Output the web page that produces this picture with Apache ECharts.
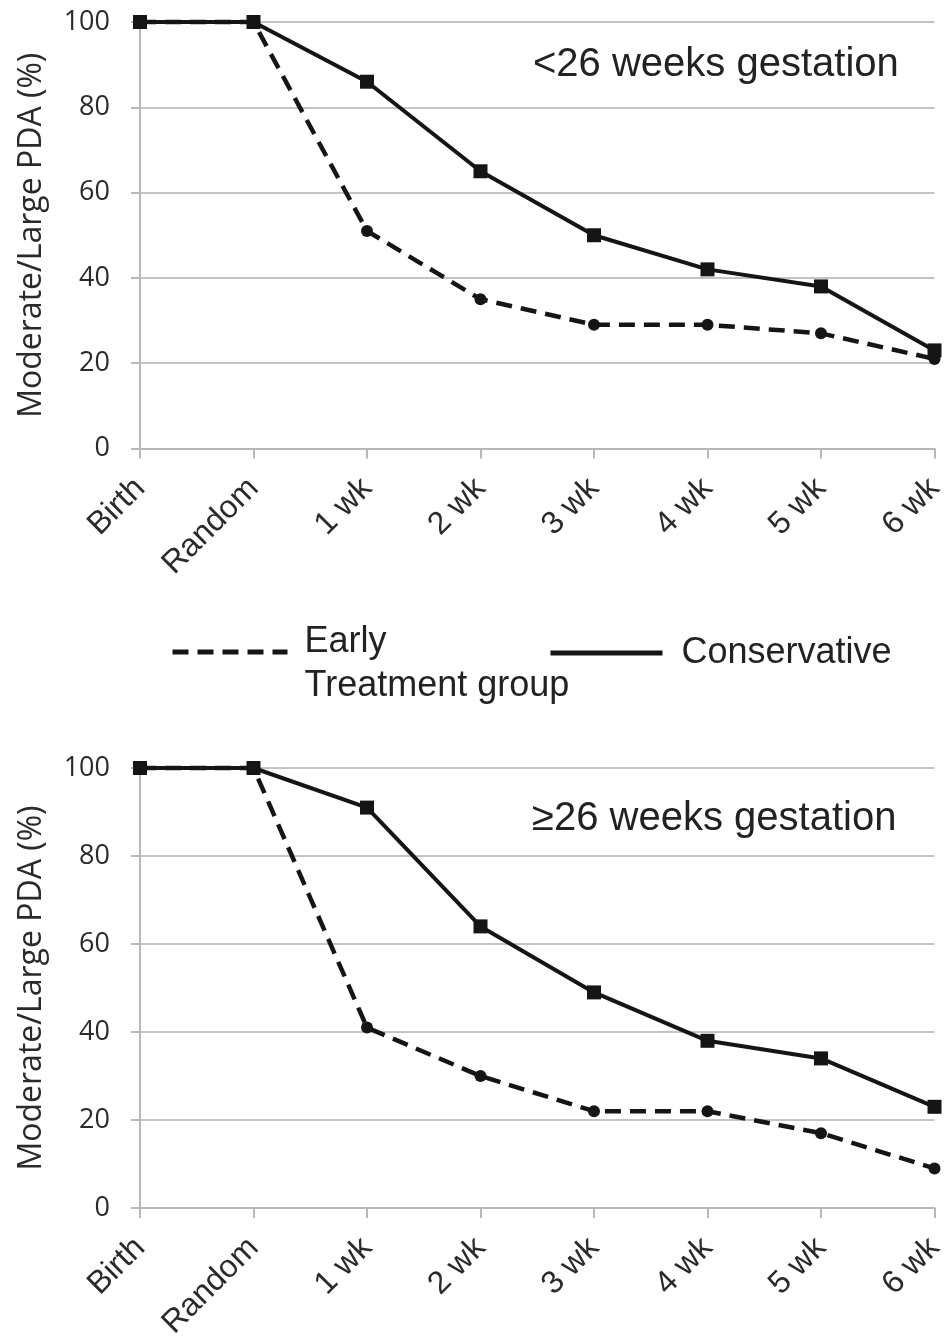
<!DOCTYPE html>
<html>
<head>
<meta charset="utf-8">
<script src="https://cdn.jsdelivr.net/npm/echarts@6/dist/echarts.min.js"></script>
<style>
  html, body { margin: 0; padding: 0; background: #fff; }
  #chart { width: 947px; height: 1337px; }
</style>
</head>
<body>
<div id="chart"></div>
<script>
// time points on the x axis
const categories = ["Birth", "Random", "1 wk", "2 wk", "3 wk", "4 wk", "5 wk", "6 wk"];

// % with moderate/large PDA, <26 weeks gestation
const earlyUnder26 = [100, 100, 51, 35, 29, 29, 27, 21];
const conservativeUnder26 = [100, 100, 86, 65, 50, 42, 38, 23];

// % with moderate/large PDA, >=26 weeks gestation
const earlyOver26 = [100, 100, 41, 30, 22, 22, 17, 9];
const conservativeOver26 = [100, 100, 91, 64, 49, 38, 34, 23];

const panelTitles = ["<26 weeks gestation", "\u226526 weeks gestation"];
const seriesNames = ["Early Treatment group", "Conservative"];

const INK = "#151515";
const GRID_GRAY = "#c4c4c4";
const LABEL = "#2a2a2a";
const DASH = [16, 9];

const chart = echarts.init(document.getElementById("chart"));

// outerBoundsMode off: keep the plot boxes where they are even if labels run to the edge
const grids = [
  { left: 140, width: 794.5, top: 22, height: 426.5, outerBoundsMode: "none" },
  { left: 140, width: 794.5, top: 768, height: 440, outerBoundsMode: "none" },
];

const buildXAxis = (gridIndex) => ({
  type: "category",
  gridIndex,
  data: categories,
  boundaryGap: false,
  axisLine: { lineStyle: { color: "#b8b8b8", width: 2 } },
  axisTick: { show: true, length: 10, lineStyle: { color: "#b8b8b8", width: 2 } },
  axisLabel: {
    rotate: 45,
    margin: 35,
    padding: [22, 0, 0, 0],
    color: LABEL,
    fontFamily: "Liberation Sans",
    fontSize: 32,
    interval: 0,
  },
});

const buildYAxis = (gridIndex) => ({
  type: "value",
  gridIndex,
  min: 0,
  max: 100,
  interval: 20,
  name: "Moderate/Large PDA (%)",
  nameLocation: "middle",
  nameGap: 92,
  nameTextStyle: { color: LABEL, fontFamily: "Open Sans", fontSize: 32 },
  axisLine: { show: true, lineStyle: { color: "#b8b8b8", width: 2 } },
  axisTick: { show: true, length: 9, lineStyle: { color: "#b8b8b8", width: 2 } },
  splitLine: { lineStyle: { color: GRID_GRAY, width: 2 } },
  axisLabel: {
    margin: 30,
    color: LABEL,
    fontFamily: "Open Sans",
    fontSize: 27,
  },
});

const earlySeries = (data, idx) => ({
  name: seriesNames[0],
  type: "line",
  xAxisIndex: idx,
  yAxisIndex: idx,
  data,
  clip: false,
  symbol: "circle",
  symbolSize: 12,
  itemStyle: { color: INK },
  lineStyle: { color: INK, width: 4.5, type: DASH },
  z: 2,
});

const conservativeSeries = (data, idx) => ({
  name: seriesNames[1],
  type: "line",
  xAxisIndex: idx,
  yAxisIndex: idx,
  data,
  clip: false,
  symbol: "rect",
  symbolSize: 14,
  itemStyle: { color: INK },
  lineStyle: { color: INK, width: 4 },
  z: 3,
});

const legendText = {
  color: "#222",
  fontFamily: "Liberation Sans",
  fontSize: 36,
  lineHeight: 44,
};

const legendBase = {
  orient: "horizontal",
  selectedMode: false,
  itemHeight: 10,
  itemStyle: { opacity: 0 },
};

chart.setOption({
  animation: false,
  backgroundColor: "#fff",
  grid: grids,
  xAxis: [buildXAxis(0), buildXAxis(1)],
  yAxis: [buildYAxis(0), buildYAxis(1)],
  legend: [
    {
      ...legendBase,
      left: 165,
      top: 591,
      itemWidth: 115,
      itemGap: 0,
      data: [seriesNames[0]],
      lineStyle: { color: INK, width: 5, type: DASH },
      formatter: () => "{s| }\n{t|Early}\n{t|Treatment group}",
      textStyle: {
        ...legendText,
        rich: {
          s: { fontSize: 10, lineHeight: 24 },
          t: { ...legendText, padding: [0, 0, 0, 12] },
        },
      },
    },
    {
      ...legendBase,
      left: 543,
      top: 626,
      itemWidth: 112,
      data: [seriesNames[1]],
      lineStyle: { color: INK, width: 5 },
      formatter: () => "{t|Conservative}",
      textStyle: {
        ...legendText,
        rich: { t: { ...legendText, padding: [0, 0, 0, 14] } },
      },
    },
  ],
  graphic: [
    {
      type: "text",
      left: 533,
      top: 45,
      style: { text: panelTitles[0], fill: "#222", font: "40px 'Liberation Sans'" },
    },
    {
      type: "text",
      left: 532,
      top: 799,
      style: { text: panelTitles[1], fill: "#222", font: "40px 'Liberation Sans'" },
    },
  ],
  series: [
    earlySeries(earlyUnder26, 0),
    conservativeSeries(conservativeUnder26, 0),
    earlySeries(earlyOver26, 1),
    conservativeSeries(conservativeOver26, 1),
  ],
});
</script>
</body>
</html>
